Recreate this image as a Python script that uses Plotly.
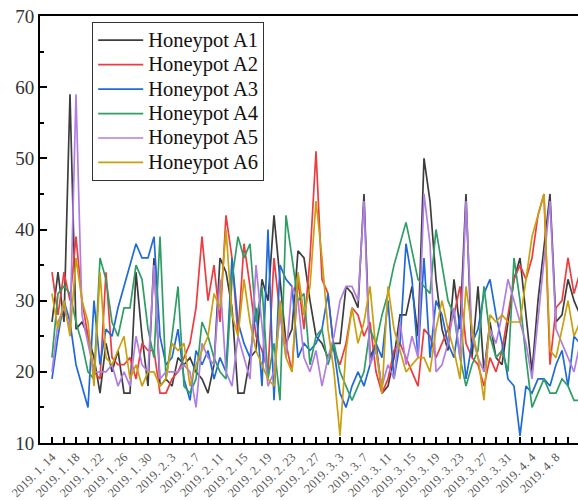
import pandas as pd
import plotly.graph_objects as go

# Daily counts per honeypot, 2019-01-14 .. 2019-04-12
dates = pd.date_range("2019-01-14", periods=89, freq="D")

honeypot_a1 = [27, 34, 27, 59, 26, 27, 25, 22, 17, 24,
               20, 23, 17, 17, 34, 25, 18, 36, 18, 19,
               18, 22, 21, 22, 20, 19, 17, 21, 36, 34,
               29, 17, 17, 22, 23, 33, 30, 42, 33, 24,
               26, 37, 36, 30, 25, 24, 22, 24, 24, 32,
               31, 29, 45, 22, 24, 17, 18, 22, 28, 28,
               32, 25, 50, 44, 33, 26, 23, 33, 26, 45,
               22, 32, 20, 27, 22, 21, 27, 33, 36, 28,
               20, 30, 38, 45, 27, 28, 33, 30, 28]
honeypot_a2 = [34, 28, 34, 30, 39, 30, 25, 20, 19, 34,
               22, 21, 21, 22, 19, 24, 23, 23, 17, 17,
               19, 20, 22, 24, 29, 39, 30, 35, 27, 42,
               36, 25, 38, 32, 25, 23, 20, 36, 28, 24,
               20, 33, 26, 36, 51, 33, 31, 23, 21, 24,
               29, 28, 25, 27, 20, 17, 19, 23, 24, 22,
               20, 18, 26, 25, 22, 24, 26, 28, 32, 24,
               22, 21, 18, 22, 20, 23, 28, 33, 35, 33,
               36, 42, 45, 21, 29, 30, 36, 31, 34]
honeypot_a3 = [19, 25, 30, 27, 21, 18, 15, 30, 21, 26,
               25, 29, 32, 35, 38, 36, 36, 39, 25, 21,
               22, 26, 19, 16, 23, 21, 23, 19, 22, 20,
               36, 27, 24, 22, 29, 18, 40, 16, 35, 33,
               32, 22, 24, 23, 24, 26, 31, 23, 17, 15,
               18, 20, 18, 21, 24, 22, 30, 19, 24, 38,
               33, 22, 36, 22, 30, 28, 24, 22, 28, 19,
               24, 26, 31, 33, 28, 24, 19, 18, 11, 18,
               17, 19, 19, 18, 21, 23, 18, 25, 24]
honeypot_a4 = [22, 31, 32, 31, 27, 24, 20, 19, 36, 33,
               27, 25, 29, 29, 35, 33, 26, 22, 39, 19,
               25, 32, 18, 17, 19, 27, 25, 22, 20, 19,
               33, 39, 36, 38, 27, 32, 19, 24, 16, 42,
               36, 30, 31, 21, 25, 26, 21, 24, 20, 18,
               16, 18, 20, 26, 24, 28, 31, 35, 38, 41,
               37, 33, 32, 31, 40, 35, 30, 28, 22, 18,
               21, 23, 32, 25, 22, 23, 20, 36, 30, 22,
               15, 17, 19, 17, 17, 19, 18, 16, 16]
honeypot_a5 = [20, 27, 29, 26, 59, 28, 24, 20, 20, 20,
               21, 18, 20, 18, 25, 21, 20, 35, 19, 20,
               20, 20, 21, 20, 15, 24, 22, 21, 33, 20,
               18, 25, 22, 19, 35, 26, 18, 20, 28, 22,
               32, 30, 22, 20, 23, 18, 22, 25, 30, 32,
               32, 30, 44, 21, 23, 18, 21, 19, 27, 21,
               25, 22, 45, 38, 20, 21, 24, 29, 22, 44,
               25, 22, 20, 26, 24, 28, 33, 30, 27, 24,
               19, 27, 35, 44, 26, 24, 22, 20, 24]
honeypot_a6 = [31, 26, 30, 25, 36, 30, 27, 18, 34, 22,
               21, 23, 25, 19, 21, 18, 20, 20, 18, 19,
               24, 23, 24, 18, 21, 23, 25, 31, 29, 40,
               28, 25, 33, 27, 23, 21, 19, 18, 30, 22,
               20, 34, 28, 32, 44, 36, 26, 20, 11, 23,
               29, 24, 27, 32, 23, 17, 32, 26, 23, 20,
               21, 22, 22, 20, 26, 30, 26, 23, 19, 32,
               26, 22, 16, 28, 27, 28, 27, 27, 27, 33,
               39, 42, 45, 23, 22, 26, 30, 25, 27]

series_names = ["Honeypot A1", "Honeypot A2", "Honeypot A3",
                "Honeypot A4", "Honeypot A5", "Honeypot A6"]
series_colors = ["#3d3d3d", "#ee3b3f", "#1f6ad8",
                 "#2f9d64", "#b07ee2", "#c9a010"]

tick_dates = ["2019-01-14", "2019-01-18", "2019-01-22", "2019-01-26",
              "2019-01-30", "2019-02-03", "2019-02-07", "2019-02-11",
              "2019-02-15", "2019-02-19", "2019-02-23", "2019-02-27",
              "2019-03-03", "2019-03-07", "2019-03-11", "2019-03-15",
              "2019-03-19", "2019-03-23", "2019-03-27", "2019-03-31",
              "2019-04-04", "2019-04-08", "2019-04-12"]
tick_labels = ["2019. 1. 14", "2019. 1. 18", "2019. 1. 22", "2019. 1. 26",
               "2019. 1. 30", "2019. 2. 3", "2019. 2. 7", "2019. 2. 11",
               "2019. 2. 15", "2019. 2. 19", "2019. 2. 23", "2019. 2. 27",
               "2019. 3. 3", "2019. 3. 7", "2019. 3. 11", "2019. 3. 15",
               "2019. 3. 19", "2019. 3. 23", "2019. 3. 27", "2019. 3. 31",
               "2019. 4. 4", "2019. 4. 8", "2019. 4. 12"]

all_series = [honeypot_a1, honeypot_a2, honeypot_a3,
              honeypot_a4, honeypot_a5, honeypot_a6]

fig = go.Figure()
for name, color, values in zip(series_names, series_colors, all_series):
    fig.add_trace(go.Scatter(
        x=dates, y=values, mode="lines",
        # larger glyphs than the legend row pitch, for a compact legend
        name=f'<span style="font-size:20.5px">{name}</span>',
        line=dict(color=color, width=1.7),
    ))

serif = "Liberation Serif, Times New Roman, serif"

fig.update_layout(
    width=578, height=500,
    margin=dict(l=40, r=0, t=16, b=47),
    paper_bgcolor="white", plot_bgcolor="white",
    font=dict(family=serif, color="#333333"),
    showlegend=True,
    legend=dict(
        x=0.097, y=0.986, xanchor="left", yanchor="top",
        bgcolor="white", bordercolor="#333333", borderwidth=1,
        font=dict(family=serif, size=16.5, color="#111111"),
        itemwidth=45, tracegroupgap=0,
    ),
    xaxis=dict(
        range=[pd.Timestamp("2019-01-12"), pd.Timestamp("2019-04-11 16:00")],
        tickmode="array", tickvals=tick_dates, ticktext=tick_labels,
        tickangle=-45, ticks="inside", ticklen=6, tickwidth=1.5,
        tickcolor="black",
        minor=dict(ticks="inside", ticklen=6, tickwidth=1.5, tickcolor="black",
                   tick0="2019-01-14", dtick=2 * 86400000),
        tickfont=dict(family=serif, size=12.5, color="#555555"),
        showline=True, linecolor="black", linewidth=2, mirror=True,
        showgrid=False, zeroline=False,
    ),
    yaxis=dict(
        range=[10, 70], tickmode="linear", tick0=10, dtick=10,
        ticks="inside", ticklen=7, tickwidth=1.5, tickcolor="black",
        minor=dict(ticks="inside", ticklen=4, tickwidth=1.5,
                   tickcolor="black", dtick=5),
        tickfont=dict(family=serif, size=19, color="#333333"),
        showline=True, linecolor="black", linewidth=2,
        showgrid=False, zeroline=False,
    ),
)

fig.write_html("out.html")
